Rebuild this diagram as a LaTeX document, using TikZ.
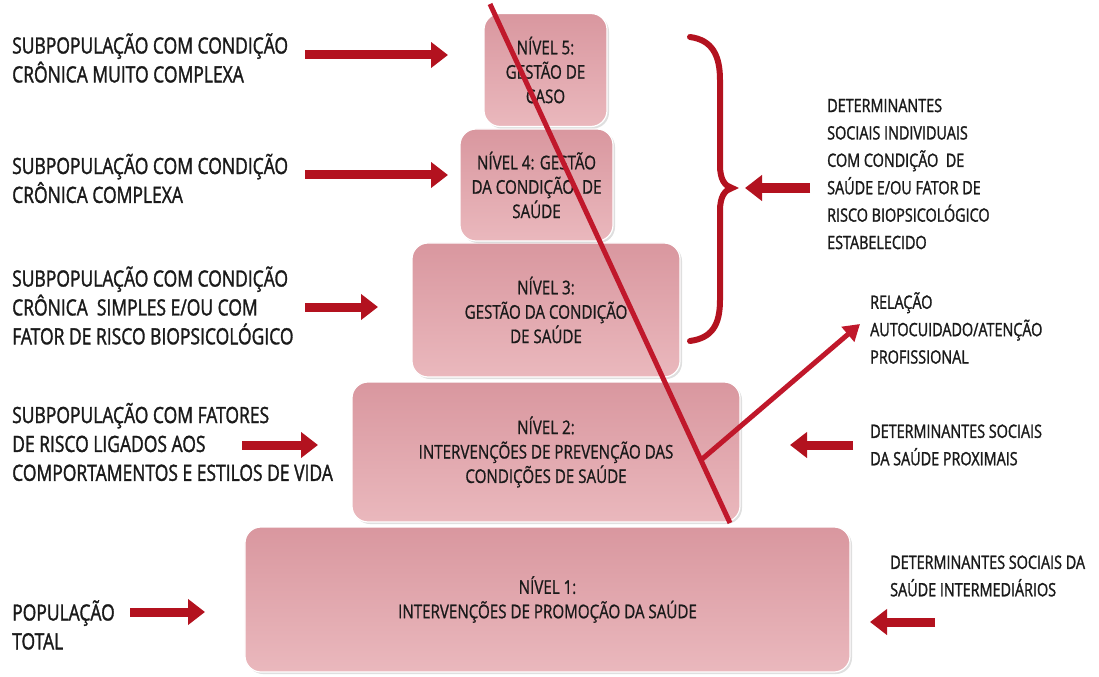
\documentclass[tikz,border=0pt]{standalone}
\usepackage{fontspec}
\setmainfont[FakeStretch=0.8]{Open Sans}
\newfontfamily\labfont[FakeStretch=0.78,FakeBold=1.4]{Open Sans}
\newfontfamily\boxfont[FakeStretch=0.8,FakeBold=0.9]{Open Sans}
\usetikzlibrary{arrows.meta,shadows}
\definecolor{arrred}{HTML}{B3121F}
\definecolor{linered}{HTML}{C0182B}
\definecolor{pktop}{HTML}{D9979F}
\definecolor{pkbot}{HTML}{EAB8BD}
\definecolor{txt}{HTML}{1A1A1A}
\tikzset{
 lvl/.style={rounded corners=16bp, top color=pktop, bottom color=pkbot, draw=white, line width=1.2bp,
   align=center, text=txt, font=\boxfont\fontsize{19}{24.5}\selectfont, inner sep=0pt,
   drop shadow={shadow xshift=2bp, shadow yshift=-2bp, opacity=0.25}},
 lab/.style={anchor=west, align=left, text=txt, font=\labfont\fontsize{22.5}{29}\selectfont, inner sep=0pt},
 rlab/.style={anchor=west, align=left, text=txt, font=\labfont\fontsize{18.5}{27.5}\selectfont, inner sep=0pt},
 fat/.style={arrred, line width=9bp, -{Triangle[length=17bp,width=25bp]}},
 diag/.style={linered, line width=5bp},
 bracestyle/.style={arrred, line width=6bp, line cap=round},
}
\begin{document}
\begin{tikzpicture}[x=1bp,y=-1bp]
\useasboundingbox (0,0) rectangle (1099,677);

% level boxes
\node[lvl, minimum width=605bp, minimum height=145bp] (n1) at (547.5,599.5)
  {NÍVEL 1:\\INTERVENÇÕES DE PROMOÇÃO DA SAÚDE};
\node[lvl, minimum width=388bp, minimum height=140bp] (n2) at (546,452)
  {NÍVEL 2:\\INTERVENÇÕES DE PREVENÇÃO DAS\\CONDIÇÕES DE SAÚDE};
\node[lvl, minimum width=268bp, minimum height=134bp] (n3) at (546,310)
  {NÍVEL 3:\\GESTÃO DA CONDIÇÃO\\DE SAÚDE};
\node[lvl, minimum width=153bp, minimum height=112bp] (n4) at (536.5,185)
  {NÍVEL 4: GESTÃO\\DA CONDIÇÃO~ DE\\SAÚDE};
\node[lvl, minimum width=123bp, minimum height=113bp] (n5) at (545.5,70)
  {NÍVEL 5:\\GESTÃO DE\\CASO};

% left labels
\node[lab] (l5) at (12,58) {SUBPOPULAÇÃO COM CONDIÇÃO\\CRÔNICA MUITO COMPLEXA};
\node[lab] (l4) at (12,178.5) {SUBPOPULAÇÃO COM CONDIÇÃO\\CRÔNICA COMPLEXA};
\node[lab] (l3) at (12,305.5) {SUBPOPULAÇÃO COM CONDIÇÃO\\CRÔNICA~ SIMPLES E/OU COM\\FATOR DE RISCO BIOPSICOLÓGICO};
\node[lab] (l2) at (12,442) {SUBPOPULAÇÃO COM FATORES\\DE RISCO LIGADOS AOS\\COMPORTAMENTOS E ESTILOS DE VIDA};
\node[lab] (l1) at (12,625) {POPULAÇÃO\\TOTAL};

% right labels
\node[rlab] (rind) at (827,174) {DETERMINANTES\\SOCIAIS INDIVIDUAIS\\COM CONDIÇÃO~ DE\\SAÚDE E/OU FATOR DE\\RISCO BIOPSICOLÓGICO\\ESTABELECIDO};
\node[rlab] (rrel) at (870,328) {RELAÇÃO\\AUTOCUIDADO/ATENÇÃO\\PROFISSIONAL};
\node[rlab] (rprox) at (870,445) {DETERMINANTES SOCIAIS\\DA SAÚDE PROXIMAIS};
\node[rlab] (rint) at (890,576) {DETERMINANTES SOCIAIS DA\\SAÚDE INTERMEDIÁRIOS};

% arrow end points
\coordinate (a5s) at (305,55);  \coordinate (a5e) at (448,55);
\coordinate (a4s) at (305,175); \coordinate (a4e) at (448,175);
\coordinate (a3s) at (305,307); \coordinate (a3e) at (378,307);
\coordinate (a2s) at (242,445); \coordinate (a2e) at (318,445);
\coordinate (a1s) at (130,612); \coordinate (a1e) at (205,612);
\coordinate (bis) at (810,188); \coordinate (bie) at (745,188);
\coordinate (bps) at (853,445); \coordinate (bpe) at (790,445);
\coordinate (bns) at (935,622); \coordinate (bne) at (870,622);

\draw[fat] (a5s) -- (a5e);
\draw[fat] (a4s) -- (a4e);
\draw[fat] (a3s) -- (a3e);
\draw[fat] (a2s) -- (a2e);
\draw[fat] (a1s) -- (a1e);
\draw[fat] (bis) -- (bie);
\draw[fat] (bps) -- (bpe);
\draw[fat] (bns) -- (bne);

% brace
\draw[bracestyle] (690,37) .. controls (712,40) and (720,55) .. (720,80) -- (720,165)
  .. controls (720,180) and (725,186) .. (732,188)
  .. controls (725,190) and (720,196) .. (720,211) -- (720,300)
  .. controls (720,325) and (712,338) .. (690,341);

% diagonal line and arrow
\coordinate (dtop) at (490,4);
\coordinate (dbot) at (730,523);
\coordinate (djoin) at (701,460);
\coordinate (dtip) at (860,324);
\draw[diag] (dtop) -- (dbot);
\draw[diag, -{Triangle[length=16bp,width=19bp]}] (djoin) -- (dtip);
\end{tikzpicture}
\end{document}
